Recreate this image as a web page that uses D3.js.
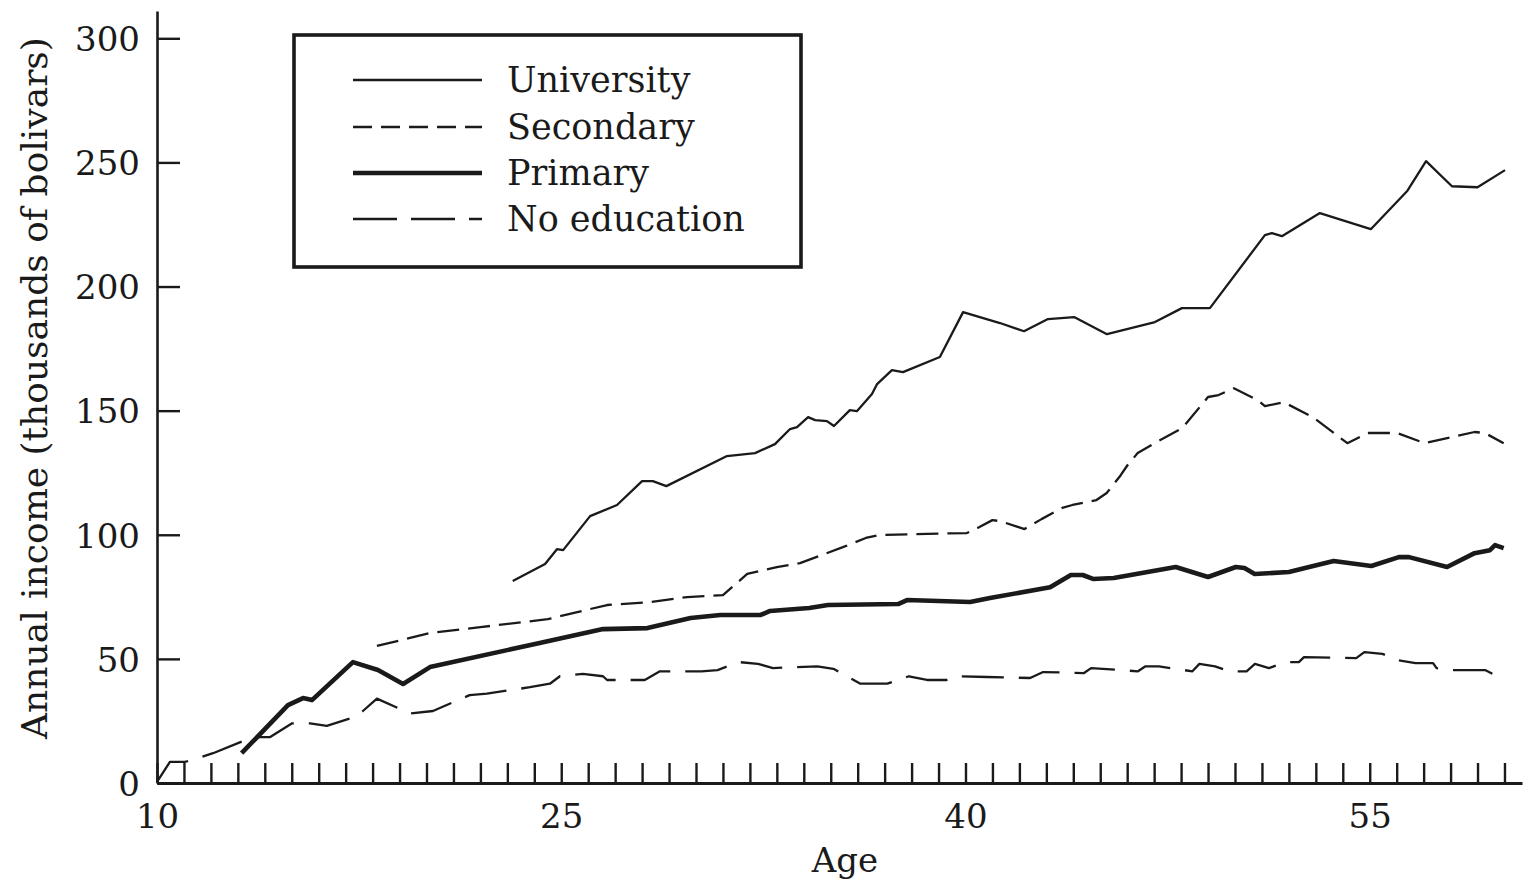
<!DOCTYPE html>
<html>
<head>
<meta charset="utf-8">
<script src="https://cdn.jsdelivr.net/npm/d3@7"></script>
<style>
  html, body { margin: 0; padding: 0; background: #fff; }
  svg { display: block; }
  text { font-family: "DejaVu Serif", serif; fill: #1a1a1a; }
</style>
</head>
<body>
<svg id="chart" width="1526" height="883"></svg>
<script>
// ---- Data ----
const seriesNames = ["University", "Secondary", "Primary", "No education"];

const uniAge    = [23.2, 24.4, 24.84, 25.07, 26.07, 27.07, 28.0, 28.4, 28.9, 31.15, 32.19, 32.93, 33.49, 33.75, 34.16, 34.42, 34.86, 35.12, 35.71, 35.97, 36.53, 36.72, 37.27, 37.68, 39.05, 39.91, 41.28, 42.17, 43.06, 44.03, 45.25, 47.03, 48.03, 49.07, 51.11, 51.37, 51.74, 53.15, 55.04, 56.4, 57.09, 58.05, 59.0, 60.02];
const uniIncome = [81.4, 88.2, 94.2, 93.8, 107.5, 112, 121.6, 121.6, 119.6, 131.7, 132.9, 136.5, 142.6, 143.4, 147.4, 146.2, 145.8, 143.8, 150.2, 149.8, 156.7, 160.7, 166.3, 165.5, 171.6, 189.7, 185.3, 182, 186.9, 187.7, 180.8, 185.7, 191.3, 191.3, 220.7, 221.5, 220.3, 229.6, 223.1, 238.6, 250.5, 240.4, 240, 246.9];

const secAge    = [18.16, 20.13, 22.0, 24.5, 26.7, 28.3, 29.67, 31.0, 31.9, 33.0, 33.86, 35.45, 36.3, 36.8, 40.05, 40.5, 41.0, 41.29, 42.19, 42.82, 43.59, 43.97, 44.86, 45.24, 45.76, 46.01, 46.39, 47.03, 48.05, 49.0, 49.39, 49.96, 50.85, 51.11, 51.81, 52.89, 54.17, 54.93, 56.02, 57.04, 58.89, 59.27, 59.97];
const secIncome = [55.2, 60.4, 62.8, 66, 71.7, 72.9, 74.9, 75.7, 84.2, 87, 88.6, 95, 98.7, 99.9, 100.7, 103, 105.9, 105.5, 102.3, 106.3, 110.8, 112, 114, 116.8, 124, 128, 132.9, 137, 143, 155.5, 156.3, 159, 154.2, 151.8, 153.4, 147.4, 136.9, 141, 141, 136.9, 141.4, 141, 136.9];

const priAge    = [13.14, 14.86, 15.42, 15.75, 17.27, 18.2, 19.13, 20.13, 24.2, 26.55, 28.2, 29.8, 30.9, 32.4, 32.75, 34.2, 34.9, 37.5, 37.83, 40.17, 40.91, 43.14, 43.91, 44.35, 44.73, 45.5, 47.8, 49.0, 50.03, 50.35, 50.73, 52.0, 53.66, 55.06, 56.08, 56.46, 57.87, 58.89, 59.46, 59.65, 59.97];
const priIncome = [12, 31.4, 34.2, 33.4, 48.7, 45.5, 39.9, 46.7, 56.4, 62, 62.4, 66.5, 67.7, 67.7, 69.3, 70.5, 71.7, 72.1, 73.7, 72.9, 74.5, 78.9, 83.8, 83.8, 82.2, 82.6, 87, 83, 87, 86.6, 84.2, 85, 89.4, 87.4, 91, 91, 87, 92.6, 93.8, 95.8, 94.6];

const noneAge    = [10.0, 10.48, 11.04, 11.52, 12.08, 13.56, 14.2, 15.0, 15.68, 16.3, 17.46, 17.64, 18.16, 19.39, 20.24, 21.6, 22.24, 23.84, 24.58, 24.95, 25.8, 26.55, 26.7, 28.1, 28.66, 30.2, 30.8, 31.6, 32.3, 32.86, 34.5, 35.1, 36.1, 37.1, 37.9, 38.57, 39.3, 39.7, 40.8, 42.4, 42.88, 44.4, 44.66, 46.4, 46.68, 47.18, 47.77, 48.42, 48.68, 49.26, 49.78, 50.43, 50.74, 51.26, 51.86, 52.37, 52.56, 54.5, 54.8, 55.47, 56.05, 56.7, 57.35, 57.48, 58.05, 59.28, 59.55];
const noneIncome = [0.5, 8.5, 8.5, 10, 12, 18.5, 18.5, 24, 24, 23, 27, 29, 34, 28, 29, 35.4, 36, 38.6, 40, 43, 44, 43, 41.5, 41.5, 45, 45, 45.5, 48.7, 48, 46.3, 47, 46, 40, 40, 43, 41.5, 41.5, 43, 42.7, 42.3, 44.7, 44.3, 46.3, 45, 47, 47, 46, 45, 48, 47, 45, 45, 48, 46.3, 48.7, 48.7, 50.7, 50.3, 52.7, 52, 49.5, 48.3, 48.3, 46.3, 45.5, 45.5, 44];

const xTickValues = d3.range(10, 61);
const xLabelValues = [10, 25, 40, 55];
const yTickValues = [0, 50, 100, 150, 200, 250, 300];

// ---- Styles ----
const styles = {
  "University":   { width: 2.3, dash: null,    legendDash: null },
  "Secondary":    { width: 2.3, dash: "22,9",  legendDash: "19,9" },
  "Primary":      { width: 4.6, dash: null,    legendDash: null },
  "No education": { width: 2.3, dash: "42,15", legendDash: "44,14" }
};

const series = [
  { name: "University",   ages: uniAge,  vals: uniIncome },
  { name: "Secondary",    ages: secAge,  vals: secIncome },
  { name: "Primary",      ages: priAge,  vals: priIncome },
  { name: "No education", ages: noneAge, vals: noneIncome }
];

const svg = d3.select("#chart");
const x = d3.scaleLinear().domain([10, 60.65]).range([157, 1522]);
const y = d3.scaleLinear().domain([0, 311]).range([783, 11]);

// Axes
const xAxis = d3.axisBottom(x)
  .tickValues(xTickValues)
  .tickSizeInner(-20)
  .tickSizeOuter(0)
  .tickFormat(d => xLabelValues.includes(d) ? d : "");
const gx = svg.append("g").attr("transform", `translate(0,${y(0)})`).call(xAxis);
gx.select(".domain").attr("stroke", "#1a1a1a").attr("stroke-width", 3);
gx.selectAll(".tick line").attr("stroke", "#1a1a1a").attr("stroke-width", 2.4);
gx.selectAll(".tick text").attr("y", 45).attr("dy", 0)
  .style("font-size", "34px").style("font-family", "DejaVu Serif, serif").attr("fill", "#1a1a1a");

const yAxis = d3.axisLeft(y)
  .tickValues(yTickValues)
  .tickSizeInner(-23)
  .tickSizeOuter(0)
  .tickPadding(17);
const gy = svg.append("g").attr("transform", `translate(${x(10)},0)`).call(yAxis);
gy.select(".domain").attr("stroke", "#1a1a1a").attr("stroke-width", 2.6);
gy.selectAll(".tick line").attr("stroke", "#1a1a1a").attr("stroke-width", 2.4);
gy.selectAll(".tick text").attr("dy", "0.36em")
  .style("font-size", "34px").style("font-family", "DejaVu Serif, serif").attr("fill", "#1a1a1a");

// Axis titles
svg.append("text")
  .attr("x", 845).attr("y", 872)
  .attr("text-anchor", "middle")
  .style("font-size", "34px")
  .text("Age");

svg.append("text")
  .attr("transform", "translate(47,388) rotate(-90)")
  .attr("text-anchor", "middle")
  .style("font-size", "36px")
  .text("Annual income (thousands of bolivars)");

// Lines
const line = d3.line().x(d => x(d[0])).y(d => y(d[1]));
series.forEach(s => {
  const pts = s.ages.map((a, i) => [a, s.vals[i]]);
  const st = styles[s.name];
  svg.append("path")
    .datum(pts)
    .attr("d", line)
    .attr("fill", "none")
    .attr("stroke", "#1a1a1a")
    .attr("stroke-width", st.width)
    .attr("stroke-linejoin", "round")
    .attr("stroke-dasharray", st.dash);
});

// Legend
const lg = svg.append("g");
lg.append("rect")
  .attr("x", 294).attr("y", 35).attr("width", 507).attr("height", 232)
  .attr("fill", "#fff").attr("stroke", "#1a1a1a").attr("stroke-width", 3.6);
const rowY = [80, 127, 173, 219];
seriesNames.forEach((name, i) => {
  const st = styles[name];
  lg.append("line")
    .attr("x1", 353).attr("x2", 482)
    .attr("y1", rowY[i]).attr("y2", rowY[i])
    .attr("stroke", "#1a1a1a")
    .attr("stroke-width", st.width)
    .attr("stroke-dasharray", st.legendDash);
  lg.append("text")
    .attr("x", 507).attr("y", rowY[i] + 12)
    .style("font-size", "35px")
    .text(name);
});
</script>
</body>
</html>
